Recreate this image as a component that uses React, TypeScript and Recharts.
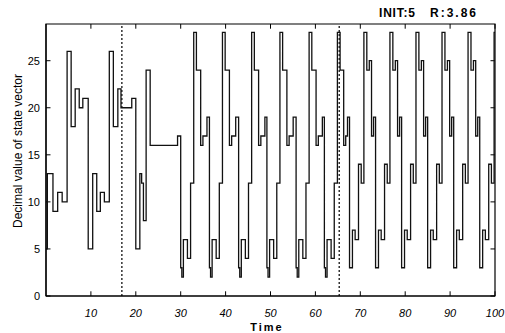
import React from 'react';
import { LineChart, Line, XAxis, YAxis, ReferenceLine, ReferenceArea } from 'recharts';

// transition times (state changes) and the decimal state value held from that time on
const times = [
  0, 0.3, 1.55, 2.6, 3.6, 4.7, 5.6, 6.5, 7.4, 8.2,
  9.4, 10.4, 11.3, 12.1, 13.0, 14.1, 15.0, 16.0, 16.7, 19.1,
  20.0, 20.9, 21.3, 21.7, 22.3, 23.2, 29.3,
  30.0, 30.25, 30.6, 31.5, 32.2, 32.9, 33.5, 34.45, 34.95, 35.85,
  36.4, 36.65, 37.0, 37.9, 38.6, 39.3, 39.9, 40.85, 41.35, 42.25,
  42.9, 43.15, 43.5, 44.4, 45.1, 45.8, 46.4, 47.35, 47.85, 48.75,
  49.2, 49.45, 49.8, 50.7, 51.4, 52.1, 52.7, 53.65, 54.15, 55.05,
  55.7, 55.95, 56.3, 57.2, 57.9, 58.6, 59.2, 60.15, 60.65, 61.55,
  62.0, 62.25, 62.6, 63.5, 64.2, 64.9, 65.5, 66.3, 66.75, 67.15,
  67.6, 68.25, 68.85, 69.6, 70.2, 70.8, 71.45, 72.0, 72.5, 72.95,
  73.4, 74.05, 74.65, 75.4, 76.0, 76.6, 77.25, 77.8, 78.3, 78.75,
  79.2, 79.85, 80.45, 81.2, 81.8, 82.4, 83.05, 83.6, 84.1, 84.55,
  85.0, 85.65, 86.25, 87.0, 87.6, 88.2, 88.85, 89.4, 89.9, 90.35,
  90.8, 91.45, 92.05, 92.8, 93.4, 94.0, 94.65, 95.2, 95.7, 96.15,
  96.6, 97.25, 97.85, 98.6, 99.2, 99.8, 100
];
const values = [
  5, 13, 9, 11, 10, 26, 18, 22, 20, 21,
  5, 13, 9, 11, 10, 26, 18, 22, 20, 21,
  5, 13, 12, 8, 24, 16, 17,
  3, 2, 6, 4, 12, 28, 24, 16, 17, 19,
  3, 2, 6, 4, 12, 28, 24, 16, 17, 19,
  3, 2, 6, 4, 12, 28, 24, 16, 17, 19,
  3, 2, 6, 4, 12, 28, 24, 16, 17, 19,
  3, 2, 6, 4, 12, 28, 24, 16, 17, 19,
  3, 2, 6, 4, 12, 28, 24, 16, 17, 19,
  3, 7, 6, 14, 12, 28, 24, 25, 17, 19,
  3, 7, 6, 14, 12, 28, 24, 25, 17, 19,
  3, 7, 6, 14, 12, 28, 24, 25, 17, 19,
  3, 7, 6, 14, 12, 28, 24, 25, 17, 19,
  3, 7, 6, 14, 12, 28, 24, 25, 17, 19,
  3, 7, 6, 14, 12, 28, 28
];
const xTicks = [10, 20, 30, 40, 50, 60, 70, 80, 90, 100];
const yTicks = [0, 5, 10, 15, 20, 25];
const regimeChanges = [16.9, 65.3];
const X_MAX = 100;
const Y_MAX = 28.9;
const titleInit = 'INIT:5';
const titleR = 'R:3.86';
const yLabel = 'Decimal value of state vector';
const xLabel = 'Time';

const data = times.map((t, i) => ({ t, v: values[i] }));

const FONT = '"Liberation Sans", Arial, Helvetica, sans-serif';

export default function App() {
  return (
    <div style={{ position: 'absolute', left: 0, top: 0, width: 505, height: 333, background: '#fff', fontFamily: FONT }}>
      <LineChart width={505} height={333} data={data} margin={{ top: 24, right: 10, bottom: 7, left: 0 }}>
        <XAxis
          type="number"
          dataKey="t"
          domain={[0, X_MAX]}
          ticks={xTicks}
          tickLine={false}
          tickMargin={7}
          height={30}
          allowDataOverflow
          axisLine={{ stroke: '#000', strokeWidth: 1.2 }}
          tick={{ fill: '#000', fontSize: 11, fontStyle: 'italic', fontFamily: FONT }}
        />
        <YAxis
          type="number"
          domain={[0, Y_MAX]}
          ticks={yTicks}
          width={46}
          tickLine={false}
          tickMargin={0}
          allowDataOverflow
          axisLine={{ stroke: '#000', strokeWidth: 1.2 }}
          tick={{ fill: '#000', fontSize: 11, fontFamily: FONT }}
        />
        <ReferenceArea x1={0} x2={X_MAX} y1={0} y2={Y_MAX} fill="none" fillOpacity={0} stroke="#000" strokeWidth={1.2} />
        {xTicks.map((x) => (
          <ReferenceLine key={'xb' + x} segment={[{ x, y: 0 }, { x, y: 0.5 }]} stroke="#000" />
        ))}
        {xTicks.map((x) => (
          <ReferenceLine key={'xt' + x} segment={[{ x, y: Y_MAX }, { x, y: Y_MAX - 0.5 }]} stroke="#000" />
        ))}
        {yTicks.map((y) => (
          <ReferenceLine key={'yl' + y} segment={[{ x: 0, y }, { x: 1, y }]} stroke="#000" />
        ))}
        {yTicks.map((y) => (
          <ReferenceLine key={'yr' + y} segment={[{ x: X_MAX - 1, y }, { x: X_MAX, y }]} stroke="#000" />
        ))}
        {regimeChanges.map((x) => (
          <ReferenceLine key={'rc' + x} x={x} stroke="#000" strokeWidth={1.2} strokeDasharray="2 2" />
        ))}
        <Line type="stepAfter" dataKey="v" stroke="#111" strokeWidth={1.3} dot={false} isAnimationActive={false} />
      </LineChart>
      <svg width={505} height={333} style={{ position: 'absolute', left: 0, top: 0, pointerEvents: 'none' }}>
        <text x={379} y={17} fontSize={12} fontWeight="bold" fontFamily={FONT} fill="#000" letterSpacing={0.8}>{titleInit}</text>
        <text x={430} y={17} fontSize={12} fontWeight="bold" fontFamily={FONT} fill="#000" letterSpacing={2}>{titleR}</text>
        <text x={22} y={151} fontSize={12} fontFamily={FONT} fill="#000" textAnchor="middle" transform="rotate(-90 22 151)">{yLabel}</text>
        <text x={267} y={331} fontSize={11} fontWeight="bold" fontFamily={FONT} fill="#000" textAnchor="middle" letterSpacing={2}>{xLabel}</text>
      </svg>
    </div>
  );
}
